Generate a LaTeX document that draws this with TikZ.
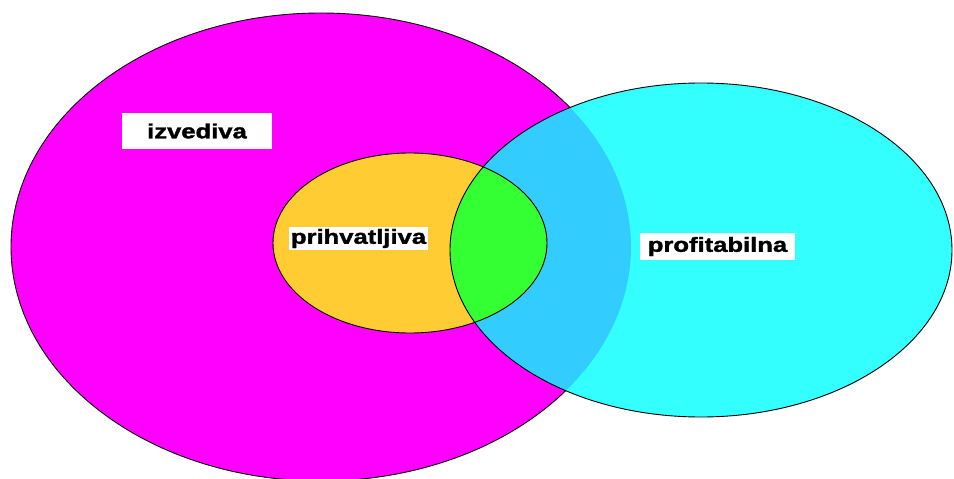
\documentclass[tikz,border=0pt]{standalone}
\usepackage{fontspec}
\setmainfont{Liberation Sans}
\newfontfamily\lblfont[BoldFeatures={FakeBold=1.5}]{Liberation Sans}
\definecolor{cMag}{HTML}{FF00FF}
\definecolor{cCyan}{HTML}{33FFFF}
\definecolor{cOver}{HTML}{33CCFF}
\definecolor{cOrange}{HTML}{FFCC33}
\definecolor{cGreen}{HTML}{33FF33}
\tikzset{
  outline/.style={draw=black, line width=0.9pt},
  lbl/.style={fill=white, inner sep=0pt, font=\lblfont\fontsize{20}{24}\selectfont\bfseries},
}
\newcommand{\wide}[1]{\scalebox{1.28}[1.02]{#1}}
\begin{document}
\begin{tikzpicture}[x=1pt,y=-1pt]
\useasboundingbox (0,0) rectangle (954,479);
\fill[white] (0,0) rectangle (954,479);
% magenta
\fill[cMag] (321,247) ellipse [x radius=310pt, y radius=234pt];
\draw[outline] (321,247) ellipse [x radius=310pt, y radius=234pt];
% cyan
\fill[cCyan] (701,250) ellipse [x radius=251pt, y radius=167pt];
\begin{scope}
  \clip (321,247) ellipse [x radius=310pt, y radius=234pt];
  \fill[cOver] (701,250) ellipse [x radius=251pt, y radius=167pt];
\end{scope}
\draw[outline] (701,250) ellipse [x radius=251pt, y radius=167pt];
% orange
\fill[cOrange] (410,243) ellipse [x radius=137pt, y radius=90pt];
\begin{scope}
  \clip (410,243) ellipse [x radius=137pt, y radius=90pt];
  \fill[cGreen] (701,250) ellipse [x radius=251pt, y radius=167pt];
  \draw[outline] (701,250) ellipse [x radius=251pt, y radius=167pt];
\end{scope}
\draw[outline] (410,243) ellipse [x radius=137pt, y radius=90pt];
% labels
\node[lbl, minimum width=150pt, minimum height=36pt] (izv) at (197,131) {\wide{izvediva}};
\node[lbl, minimum width=139pt, minimum height=23pt] (pri) at (358.5,238.5) {\wide{prihvatljiva}};
\node[lbl, minimum width=155pt, minimum height=27pt] (pro) at (717.5,246.5) {\wide{profitabilna}};
\end{tikzpicture}
\end{document}
